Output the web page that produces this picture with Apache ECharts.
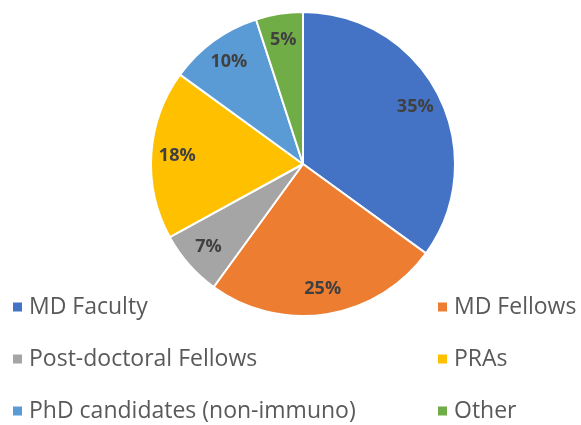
<!DOCTYPE html>
<html>
<head>
<meta charset="utf-8">
<script src="https://cdn.jsdelivr.net/npm/echarts@6/dist/echarts.min.js"></script>
<style>
  html, body { margin: 0; padding: 0; background: #ffffff; }
  #chart { width: 581px; height: 425px; }
</style>
</head>
<body>
<div id="chart"></div>
<script>
// categories and shares (percent), clockwise from 12 o'clock
var categories = ['MD Faculty', 'MD Fellows', 'Post-doctoral Fellows', 'PRAs', 'PhD candidates (non-immuno)', 'Other']
var shares = [35, 25, 7, 18, 10, 5]
var colors = ['#4472C4', '#ED7D31', '#A5A5A5', '#FFC000', '#5B9BD5', '#70AD47']

var pieData = categories.map(function(name, i) {
  return { name: name, value: shares[i] }
})

var myChart = echarts.init(document.getElementById('chart'))

var legendText = {
  color: '#595959',
  fontSize: 23,
  fontFamily: 'Open Sans',
  lineHeight: 24,
  padding: [0, 0, 0, 1]
}

var option = {
  backgroundColor: '#ffffff',
  color: colors,
  animation: false,
  legend: [
    {
      orient: 'vertical',
      left: 11,
      top: 295,
      icon: 'rect',
      itemWidth: 11,
      itemHeight: 11,
      itemGap: 28,
      padding: 0,
      textStyle: legendText,
      data: [categories[0], categories[2], categories[4]]
    },
    {
      orient: 'vertical',
      left: 436,
      top: 295,
      icon: 'rect',
      itemWidth: 11,
      itemHeight: 11,
      itemGap: 28,
      padding: 0,
      textStyle: legendText,
      data: [categories[1], categories[3], categories[5]]
    }
  ],
  series: [
    {
      type: 'pie',
      center: [303, 164],
      radius: [0, 152],
      startAngle: 90,
      clockwise: true,
      itemStyle: { borderColor: '#ffffff', borderWidth: 2 },
      label: { show: false },
      labelLine: { show: false },
      emphasis: { disabled: true },
      data: pieData
    },
    {
      // transparent ring, only used to place the percent labels further out
      type: 'pie',
      silent: true,
      center: [303, 164],
      radius: [96, 150],
      startAngle: 90,
      clockwise: true,
      itemStyle: { color: 'rgba(0,0,0,0)', borderWidth: 0 },
      label: {
        show: true,
        position: 'inside',
        formatter: '{c}%',
        color: '#404040',
        fontSize: 18,
        fontWeight: 'bold',
        fontFamily: 'Open Sans'
      },
      labelLine: { show: false },
      emphasis: { disabled: true },
      data: pieData
    }
  ]
}

myChart.setOption(option, true)
</script>
</body>
</html>
